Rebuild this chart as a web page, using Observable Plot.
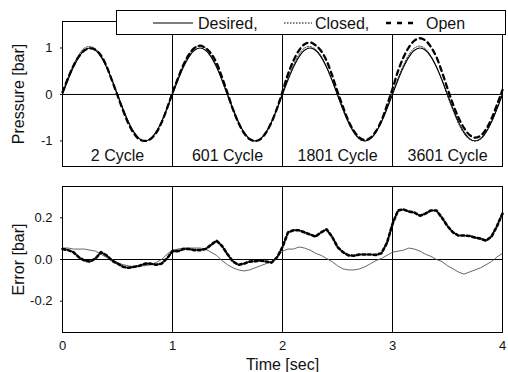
<!DOCTYPE html>
<html><head><meta charset="utf-8">
<script src="https://cdn.jsdelivr.net/npm/d3@7"></script>
<script src="https://cdn.jsdelivr.net/npm/@observablehq/plot@0.6"></script>
<style>
body{margin:0;background:#fff;}
#chart{position:relative;width:508px;height:372px;font-family:"Liberation Sans",Arial,sans-serif;overflow:hidden;}
#topPanel,#bottomPanel,#legend{position:absolute;left:0;}
#topPanel{top:0;} #bottomPanel{top:176px;}
#legend{left:116px;top:10px;}
</style>
</head><body>
<div id="chart"><div id="topPanel"></div><div id="bottomPanel"></div><div id="legend"></div></div>
<script>
// ---- data ----
const time = [0,0.05,0.1,0.15,0.2,0.25,0.3,0.35,0.4,0.45,0.5,0.55,0.6,0.65,0.7,0.75,0.8,0.85,0.9,0.95,
 1,1.05,1.1,1.15,1.2,1.25,1.3,1.35,1.4,1.45,1.5,1.55,1.6,1.65,1.7,1.75,1.8,1.85,1.9,1.95,
 2,2.05,2.1,2.15,2.2,2.25,2.3,2.35,2.4,2.45,2.5,2.55,2.6,2.65,2.7,2.75,2.8,2.85,2.9,2.95,
 3,3.05,3.1,3.15,3.2,3.25,3.3,3.35,3.4,3.45,3.5,3.55,3.6,3.65,3.7,3.75,3.8,3.85,3.9,3.95,4];

const desired = [0,0.31,0.59,0.81,0.95,1,0.95,0.81,0.59,0.31,0,-0.31,-0.59,-0.81,-0.95,-1,-0.95,-0.81,-0.59,-0.31,
 0,0.31,0.59,0.81,0.95,1,0.95,0.81,0.59,0.31,0,-0.31,-0.59,-0.81,-0.95,-1,-0.95,-0.81,-0.59,-0.31,
 0,0.31,0.59,0.81,0.95,1,0.95,0.81,0.59,0.31,0,-0.31,-0.59,-0.81,-0.95,-1,-0.95,-0.81,-0.59,-0.31,
 0,0.31,0.59,0.81,0.95,1,0.95,0.81,0.59,0.31,0,-0.31,-0.59,-0.81,-0.95,-1,-0.95,-0.81,-0.59,-0.31,0];

const closedPressure = [0.06,0.36,0.64,0.86,1.0,1.03,0.98,0.83,0.60,0.31,-0.02,-0.33,-0.61,-0.82,-0.96,-1.0,-0.96,-0.82,-0.59,-0.28,
 0.05,0.36,0.64,0.86,1.01,1.05,1.0,0.84,0.61,0.30,-0.03,-0.34,-0.62,-0.83,-0.96,-1.0,-0.96,-0.82,-0.60,-0.30,
 0.04,0.36,0.64,0.86,1.0,1.03,0.97,0.83,0.59,0.30,-0.03,-0.34,-0.62,-0.83,-0.97,-1.0,-0.96,-0.81,-0.58,-0.29,
 0.04,0.35,0.63,0.86,1.0,1.04,0.98,0.82,0.59,0.30,-0.03,-0.34,-0.63,-0.84,-0.97,-1.0,-0.97,-0.82,-0.60,-0.30,0.03];

const openPressure = [0.05,0.35,0.62,0.82,0.95,0.99,0.96,0.84,0.61,0.30,-0.02,-0.34,-0.63,-0.84,-0.97,-1.0,-0.96,-0.83,-0.61,-0.30,
 0.04,0.35,0.64,0.86,1.0,1.05,1.0,0.88,0.68,0.37,0.03,-0.32,-0.61,-0.83,-0.96,-1.0,-0.96,-0.82,-0.60,-0.30,
 0.06,0.44,0.73,0.95,1.08,1.12,1.06,0.94,0.73,0.42,0.06,-0.27,-0.57,-0.79,-0.93,-0.98,-0.93,-0.79,-0.56,-0.23,
 0.12,0.50,0.80,1.02,1.16,1.21,1.16,1.02,0.80,0.48,0.13,-0.21,-0.50,-0.72,-0.87,-0.93,-0.89,-0.75,-0.52,-0.22,0.10];

const closedError = [0.055,0.055,0.05,0.05,0.05,0.045,0.04,0.025,0.01,0,-0.015,-0.025,-0.03,-0.035,-0.03,-0.03,-0.025,-0.015,0,0.025,
 0.045,0.05,0.055,0.055,0.055,0.055,0.05,0.035,0.02,-0.005,-0.025,-0.04,-0.05,-0.055,-0.05,-0.04,-0.03,-0.02,-0.01,0.01,
 0.04,0.05,0.05,0.06,0.055,0.045,0.03,0.02,0.005,-0.01,-0.03,-0.045,-0.05,-0.05,-0.045,-0.035,-0.02,-0.005,0.005,0.02,
 0.035,0.04,0.045,0.055,0.05,0.04,0.025,0.015,0,-0.01,-0.03,-0.045,-0.06,-0.07,-0.06,-0.05,-0.04,-0.025,-0.01,0.012,0.03];

const openError = [0.05,0.045,0.035,0.01,-0.005,-0.01,0.005,0.035,0.02,-0.005,-0.02,-0.035,-0.04,-0.035,-0.03,-0.02,-0.02,-0.025,-0.02,0.005,
 0.04,0.04,0.05,0.05,0.045,0.045,0.05,0.07,0.09,0.065,0.025,-0.01,-0.025,-0.02,-0.01,-0.008,-0.005,-0.01,-0.015,0.01,
 0.06,0.13,0.14,0.14,0.13,0.12,0.11,0.13,0.145,0.11,0.06,0.035,0.02,0.018,0.024,0.024,0.024,0.022,0.03,0.08,
 0.17,0.235,0.24,0.23,0.225,0.21,0.22,0.235,0.235,0.2,0.16,0.13,0.115,0.115,0.113,0.105,0.1,0.09,0.11,0.16,0.22];

const cycleBounds = [1, 2, 3];
const cycleLabels = ["2 Cycle", "601 Cycle", "1801 Cycle", "3601 Cycle"];
const cycleCenters = [0.5, 1.5, 2.5, 3.5];
const timeTicks = [0, 1, 2, 3, 4];
const pressureTicks = [-1, 0, 1];
const errorTicks = [-0.2, 0, 0.2];
const legendNames = ["Desired,", "Closed,", "Open"];

// ---- build rows ----
const rows = time.map((t, i) => ({
  t, desired: desired[i], closed: closedPressure[i], open: openPressure[i],
  closedErr: closedError[i], openErr: openError[i]
}));
const cycles = cycleLabels.map((label, i) => ({label, x: cycleCenters[i]}));

const FONT = "'Liberation Sans', Arial, sans-serif";

const topPlot = Plot.plot({
  width: 508, height: 176,
  marginLeft: 62, marginRight: 6, marginTop: 21, marginBottom: 10,
  style: {fontFamily: FONT, fontSize: "13px", color: "#111", background: "#fff"},
  x: {domain: [0, 4], axis: null},
  y: {domain: [-1.55, 1.57], ticks: pressureTicks, tickFormat: d => String(d), tickSize: 2, tickPadding: 8, label: null},
  marks: [
    Plot.ruleX(cycleBounds, {stroke: "#000", strokeWidth: 1}),
    Plot.ruleY([0], {stroke: "#000", strokeWidth: 1}),
    Plot.line(rows, {x: "t", y: "closed", curve: "catmull-rom", stroke: "#333", strokeWidth: 1, strokeDasharray: "1.5,1.5"}),
    Plot.line(rows, {x: "t", y: "desired", curve: "catmull-rom", stroke: "#000", strokeWidth: 1.1}),
    Plot.line(rows, {x: "t", y: "open", curve: "catmull-rom", stroke: "#000", strokeWidth: 2.3, strokeDasharray: "5,4"}),
    Plot.text(cycles, {x: "x", y: () => -1.32, text: "label", fontSize: 16, fill: "#111"}),
    Plot.frame({stroke: "#000", strokeWidth: 1}),
    Plot.text(["Pressure [bar]"], {frameAnchor: "left", dx: -44, rotate: -90, textAnchor: "middle", lineAnchor: "middle", fontSize: 16, fill: "#111", style: "letter-spacing:1px"})
  ]
});
document.getElementById("topPanel").appendChild(topPlot);

const bottomPlot = Plot.plot({
  width: 508, height: 196,
  marginLeft: 62, marginRight: 6, marginTop: 10, marginBottom: 40,
  style: {fontFamily: FONT, fontSize: "13px", color: "#111", background: "#fff"},
  x: {domain: [0, 4], ticks: timeTicks, tickFormat: d => String(d), tickSize: 0, tickPadding: 8, label: null},
  y: {domain: [-0.35, 0.35], ticks: errorTicks, tickFormat: d => d.toFixed(1), tickSize: 2, tickPadding: 8, label: null},
  marks: [
    Plot.ruleX(cycleBounds, {stroke: "#000", strokeWidth: 1}),
    Plot.ruleY([0], {stroke: "#000", strokeWidth: 1}),
    Plot.line(rows, {x: "t", y: "closedErr", stroke: "#555", strokeWidth: 0.9}),
    Plot.line(rows, {x: "t", y: "openErr", stroke: "#000", strokeWidth: 2.6, strokeDasharray: "3,2.5"}),
    Plot.frame({stroke: "#000", strokeWidth: 1}),
    Plot.text(["Error [bar]"], {frameAnchor: "left", dx: -44, rotate: -90, textAnchor: "middle", lineAnchor: "middle", fontSize: 16, fill: "#111", style: "letter-spacing:1px"}),
    Plot.text(["Time [sec]"], {frameAnchor: "bottom", dy: 32, textAnchor: "middle", lineAnchor: "middle", fontSize: 16, fill: "#111"})
  ]
});
document.getElementById("bottomPanel").appendChild(bottomPlot);

// ---- legend box (overlay) ----
const lg = d3.select("#legend").append("svg").attr("width", 392).attr("height", 26)
  .style("font-family", FONT).style("font-size", "16px");
lg.append("rect").attr("x", 0.5).attr("y", 0.5).attr("width", 389).attr("height", 24).attr("fill", "#fff").attr("stroke", "#000");
const items = [
  {x1: 37, x2: 77, tx: 82, dash: null, w: 1.1},
  {x1: 168, x2: 196, tx: 199, dash: "1.5,1.5", w: 1},
  {x1: 270, x2: 297, tx: 310, dash: "5,6", w: 2.3}
];
items.forEach((it, i) => {
  const l = lg.append("line").attr("x1", it.x1).attr("x2", it.x2).attr("y1", 13).attr("y2", 13)
    .attr("stroke", "#000").attr("stroke-width", it.w);
  if (it.dash) l.attr("stroke-dasharray", it.dash);
  lg.append("text").attr("x", it.tx).attr("y", 18.5).attr("fill", "#111").text(legendNames[i]);
});
</script>
</body></html>
